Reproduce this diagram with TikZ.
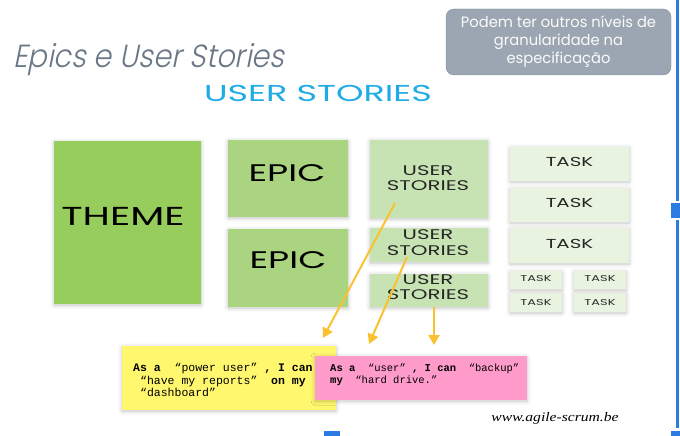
\documentclass[tikz,border=0pt]{standalone}
\usepackage{fontspec}
\usetikzlibrary{arrows.meta,shadows.blur}
\newfontfamily\handfont[FakeStretch=1.52]{Poppins}
\newfontfamily\titlefont[FakeSlant=0.2,FakeStretch=0.9]{Poppins Light}
\newfontfamily\gothicfont[FakeStretch=0.98]{Poppins}
\newfontfamily\notefont{Liberation Mono}
\newfontfamily\urlfont[FakeStretch=1.2]{Liberation Serif}
\definecolor{themeg}{HTML}{97CD5C}
\definecolor{epicg}{HTML}{AAD480}
\definecolor{usg}{HTML}{C8E3B3}
\definecolor{taskg}{HTML}{E9F4E0}
\definecolor{yel}{HTML}{FFF86E}
\definecolor{pinkn}{HTML}{FE9BCB}
\definecolor{arr}{HTML}{F9C22E}
\definecolor{titleg}{HTML}{6A7787}
\definecolor{boxg}{HTML}{9BA6B2}
\definecolor{boxd}{HTML}{838E9A}
\definecolor{ublue}{HTML}{1EABE6}
\definecolor{rblue}{HTML}{2B7BE3}
\tikzset{
  sticky/.style={fill=#1, inner sep=0pt, draw=none,
    blur shadow={shadow xshift=0pt,shadow yshift=-1pt,shadow blur radius=4pt,shadow opacity=24}},
  handtxt/.style={font=\handfont\fontsize{#1}{#1}\selectfont, text=black, inner sep=0pt},
  usertxt/.style={font=\handfont\fontsize{14}{15.5}\selectfont, align=center, inner sep=0pt, text=black!85},
  arrowline/.style={draw=arr, line width=2pt, -{Triangle[width=11pt,length=10pt]}},
  blueline/.style={fill=rblue},
}
\begin{document}
\begin{tikzpicture}[x=1pt,y=-1pt]
\useasboundingbox (0,0) rectangle (680,436);
% title
\node[anchor=base west, inner sep=0pt, text=titleg, font=\titlefont\fontsize{32}{36}\selectfont] (title) at (13,67) {Epics e User Stories};
\node[draw=boxd, fill=boxg, rounded corners=8pt, minimum width=225, minimum height=66, inner sep=0pt,
      align=center, text=white!95!boxg, font=\gothicfont\fontsize{15}{18}\selectfont] (gray) at (558.5,42)
      {Podem ter outros níveis de\\granularidade na\\especificação};
\node[anchor=base, inner sep=0pt, text=ublue, font=\handfont\fontsize{23}{23}\selectfont] (ust) at (318,102) {USER STORIES};
% theme and epics
\node[sticky=themeg, minimum width=147, minimum height=163] (theme) at (127.5,222.5) {};
\node[handtxt=26] (themet) at (123,216) {THEME};
\node[sticky=epicg, minimum width=120, minimum height=77] (epic1) at (288,178.5) {};
\node[handtxt=24] (epic1t) at (287,173) {EPIC};
\node[sticky=epicg, minimum width=120, minimum height=78] (epic2) at (288,268) {};
\node[handtxt=24] (epic2t) at (288,260) {EPIC};
% user stories
\node[sticky=usg, minimum width=118, minimum height=78] (us1) at (429,179) {};
\node[usertxt] (us1t) at (428,178) {USER\\STORIES};
\node[sticky=usg, minimum width=118, minimum height=34] (us2) at (429,245) {};
\node[usertxt] (us2t) at (428,242.5) {USER\\STORIES};
\node[sticky=usg, minimum width=118, minimum height=33] (us3) at (429,290.5) {};
\node[usertxt] (us3t) at (428,287) {USER\\STORIES};
% tasks
\node[sticky=taskg, minimum width=119, minimum height=34] (t1) at (569.5,164) {};
\node[handtxt=13, text=black!85] (t1t) at (569.5,162) {TASK};
\node[sticky=taskg, minimum width=119, minimum height=34] (t2) at (569.5,205) {};
\node[handtxt=13, text=black!85] (t2t) at (569.5,203) {TASK};
\node[sticky=taskg, minimum width=119, minimum height=35] (t3) at (569.5,245.5) {};
\node[handtxt=13, text=black!85] (t3t) at (569.5,244) {TASK};
\node[sticky=taskg, minimum width=52, minimum height=18] (t4) at (536,280) {};
\node[handtxt=8.5, text=black!85] (t4t) at (536,278.5) {TASK};
\node[sticky=taskg, minimum width=52, minimum height=18] (t5) at (600,280) {};
\node[handtxt=8.5, text=black!85] (t5t) at (600,278.5) {TASK};
\node[sticky=taskg, minimum width=52, minimum height=19] (t6) at (536,302.5) {};
\node[handtxt=8.5, text=black!85] (t6t) at (536,303) {TASK};
\node[sticky=taskg, minimum width=52, minimum height=19] (t7) at (600,302.5) {};
\node[handtxt=8.5, text=black!85] (t7t) at (600,303) {TASK};
% notes
\node[sticky=yel, minimum width=214, minimum height=64] (yn) at (229,378) {};
\node[anchor=north west, inner sep=0pt, align=left, font=\notefont\fontsize{11.5}{12.7}\selectfont] (ynt) at (133,363)
  {\textbf{As a}\ \ “power user”\ \textbf{, I can}\\\ “have my reports”\ \ \textbf{on my}\\\ “dashboard”};
\node[sticky=pinkn, minimum width=212, minimum height=44] (pn) at (421,378) {};
\node[anchor=north west, inner sep=0pt, align=left, font=\notefont\fontsize{10.5}{11.5}\selectfont] (pnt) at (330,364)
  {\textbf{As a}\ \ “user”\ \textbf{, I can}\ \ “backup”\\\textbf{my}\ \ “hard drive.”};
% arrows
\coordinate (a1s) at (395,203);
\coordinate (a1e) at (323,338);
\coordinate (a2s) at (407,257);
\coordinate (a2e) at (369,344);
\coordinate (a3s) at (434,307);
\coordinate (a3e) at (434,345);
\draw[arrowline] (a1s) -- (a1e);
\draw[arrowline] (a2s) -- (a2e);
\draw[arrowline] (a3s) -- (a3e);
% url
\node[anchor=base, inner sep=0pt, font=\urlfont\itshape\fontsize{13}{13}\selectfont] (url) at (555,421) {www.agile-scrum.be};
% blue marks
\fill[blueline] (676,0) rectangle (678.5,201);
\fill[blueline] (671,203) rectangle (680,218);
\fill[blueline] (676,220) rectangle (678.5,428);
\fill[blueline] (671,431) rectangle (680,436);
\fill[blueline] (324,431) rectangle (340,436);
\end{tikzpicture}
\end{document}
